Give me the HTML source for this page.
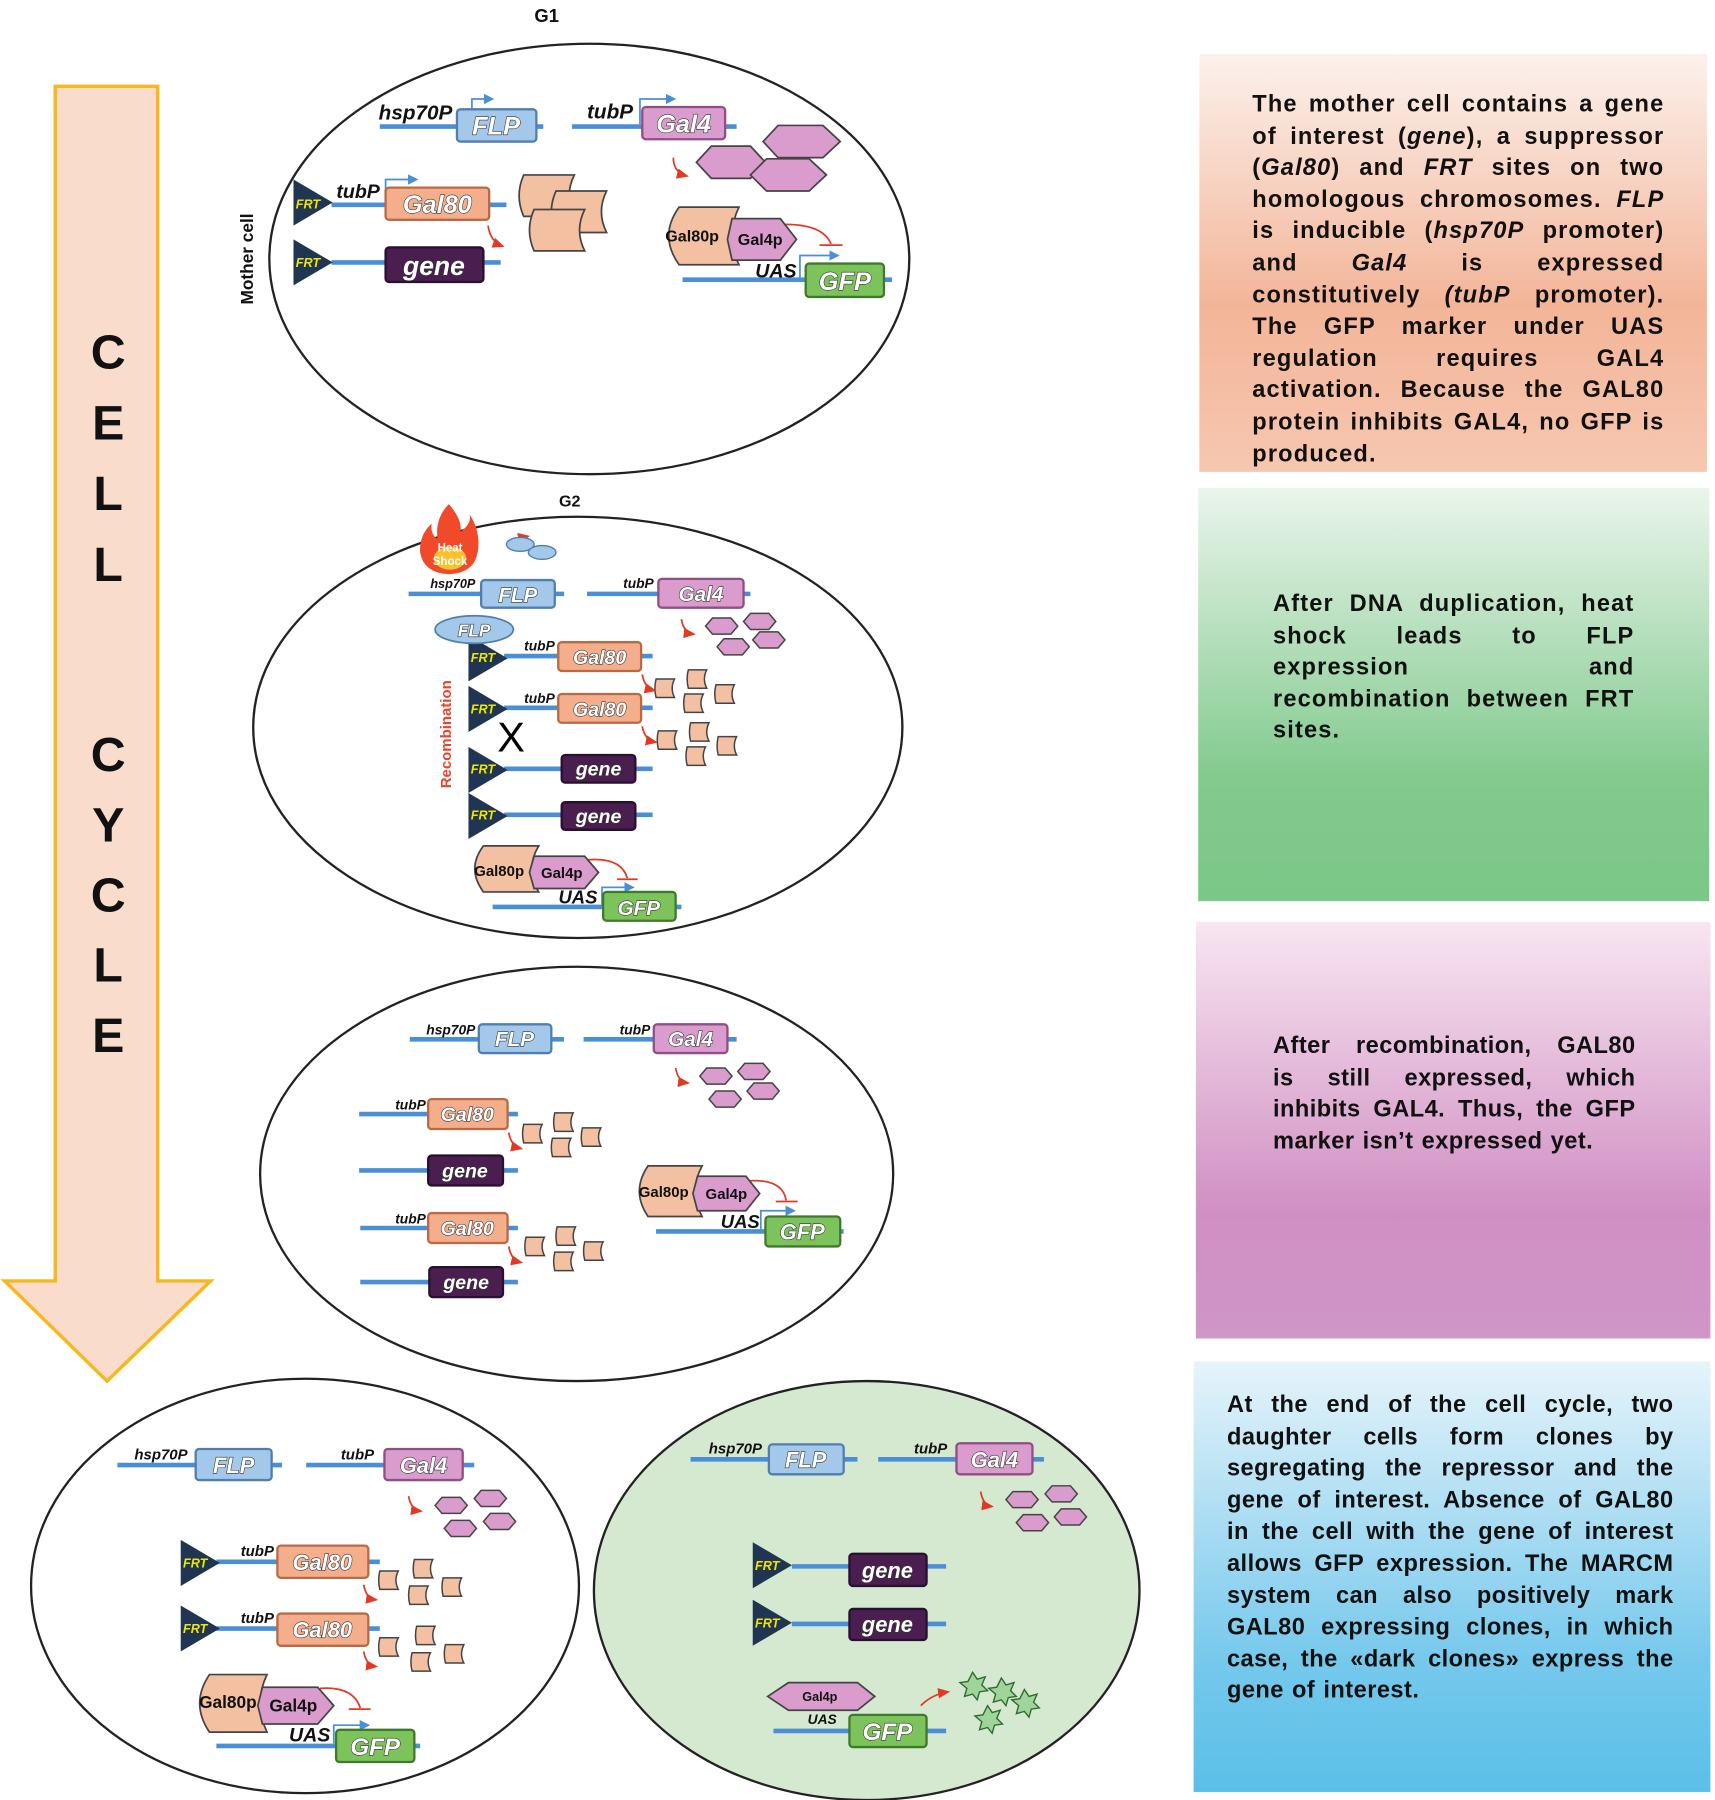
<!DOCTYPE html>
<html><head><meta charset="utf-8"><style>
html,body{margin:0;padding:0;background:#fff;}
#wrap{position:relative;width:1490px;height:1564px;transform:scale(1.151,1.1509);transform-origin:0 0;overflow:hidden;}
svg{position:absolute;left:0;top:0;}
.tb{position:absolute;font-family:"Liberation Sans",sans-serif;font-weight:bold;font-size:20.5px;line-height:27.6px;letter-spacing:0.4px;word-spacing:1px;color:#111;text-align:justify;}
.bt{font-family:"Liberation Sans",sans-serif;font-style:italic;font-weight:bold;fill:#fff;stroke:#333;stroke-width:1;paint-order:stroke;text-anchor:middle;}
.pl{font-family:"Liberation Sans",sans-serif;font-style:italic;font-weight:bold;fill:#111;text-anchor:end;}
.frt{font-family:"Liberation Sans",sans-serif;font-style:italic;font-weight:bold;fill:#f2e600;font-size:11px;}
.pt{font-family:"Liberation Sans",sans-serif;font-weight:bold;fill:#111;}
</style></head><body><div id="wrap">
<svg width="1490" height="1564" viewBox="0 0 1490 1564">
<defs>
<marker id="ab" markerWidth="6" markerHeight="6" refX="5" refY="3" orient="auto"><path d="M0,0 L6,3 L0,6z" fill="#4a8fd6"/></marker>
<marker id="ar" markerWidth="8" markerHeight="8" refX="6" refY="4" orient="auto"><path d="M0,1 L7,4 L0,7z" fill="#e03a25"/></marker>
<g id="hex"><polygon points="-14,0 -8,-7 8,-7 14,0 8,7 -8,7" fill="#d99ccc" stroke="#444" stroke-width="1.3"/></g>
<g id="sq"><path d="M-8,-8 H8 Q4,0 8,8 H-8 Q-10,0 -8,-8z" fill="#f4c0a2" stroke="#444" stroke-width="1.3"/></g>
<g id="sqb"><path d="M-22,-18 H22 Q13,0 22,18 H-22 Q-30,0 -22,-18z" fill="#f4c0a2" stroke="#444" stroke-width="1.5"/></g>
<g id="tri"><polygon points="0,-20 34,0 0,20" fill="#1f3552"/></g>
<linearGradient id="g1" x1="0" y1="0" x2="0" y2="1"><stop offset="0" stop-color="#fcf1ec"/><stop offset="0.6" stop-color="#f3b598"/><stop offset="1" stop-color="#f6c7b0"/></linearGradient>
<linearGradient id="g2" x1="0" y1="0" x2="0" y2="1"><stop offset="0" stop-color="#eaf5ec"/><stop offset="0.7" stop-color="#82ca8e"/><stop offset="1" stop-color="#7ac788"/></linearGradient>
<linearGradient id="g3" x1="0" y1="0" x2="0" y2="1"><stop offset="0" stop-color="#f8e6f1"/><stop offset="0.7" stop-color="#d08fc3"/><stop offset="1" stop-color="#cf96c6"/></linearGradient>
<linearGradient id="g4" x1="0" y1="0" x2="0" y2="1"><stop offset="0" stop-color="#e6f4fa"/><stop offset="0.7" stop-color="#75c8ec"/><stop offset="1" stop-color="#5bbfe8"/></linearGradient>
</defs>

<rect x="1042" y="47" width="441" height="363" fill="url(#g1)"/>
<rect x="1041" y="424" width="444" height="359" fill="url(#g2)"/>
<rect x="1039" y="801" width="447" height="362" fill="url(#g3)"/>
<rect x="1037" y="1183" width="449" height="374" fill="url(#g4)"/>

<polygon points="48,75 137,75 137,1113 183,1113 93,1200 4,1113 48,1113" fill="#f9dccb" stroke="#f6b81e" stroke-width="3"/>
<g font-family="Liberation Sans,sans-serif" font-weight="bold" font-size="42" text-anchor="middle" fill="#111">
<text x="94" y="320">C</text><text x="94" y="382">E</text><text x="94" y="443">L</text><text x="94" y="505">L</text>
<text x="94" y="670">C</text><text x="94" y="731">Y</text><text x="94" y="792">C</text><text x="94" y="853">L</text><text x="94" y="914">E</text>
</g>

<ellipse cx="512" cy="225" rx="278" ry="187" fill="#fff" stroke="#222" stroke-width="2"/>
<ellipse cx="502" cy="632" rx="282" ry="183" fill="#fff" stroke="#222" stroke-width="2"/>
<ellipse cx="501" cy="1020" rx="275" ry="180" fill="#fff" stroke="#222" stroke-width="2"/>
<ellipse cx="265" cy="1378" rx="238" ry="180" fill="#fff" stroke="#222" stroke-width="2"/>
<ellipse cx="753" cy="1382" rx="237" ry="182" fill="#d5e8d0" stroke="#222" stroke-width="2"/>
<text x="475" y="19" class="pt" font-size="16" text-anchor="middle">G1</text>
<text x="495" y="440" class="pt" font-size="14" text-anchor="middle">G2</text>

<g stroke="#4a8fd6" stroke-width="4">
<line x1="330" y1="110" x2="472" y2="110"/><line x1="497" y1="110" x2="640" y2="110"/>
<line x1="288" y1="178" x2="440" y2="178"/><line x1="288" y1="228" x2="435" y2="228"/>
<line x1="593" y1="243" x2="775" y2="243"/>
<line x1="355" y1="516" x2="490" y2="516"/><line x1="510" y1="516" x2="652" y2="516"/>
<line x1="438" y1="570" x2="567" y2="570"/><line x1="438" y1="615" x2="567" y2="615"/>
<line x1="438" y1="668" x2="567" y2="668"/><line x1="438" y1="708" x2="567" y2="708"/>
<line x1="428" y1="788" x2="592" y2="788"/>
<line x1="356" y1="903" x2="490" y2="903"/><line x1="507" y1="903" x2="640" y2="903"/>
<line x1="312" y1="968" x2="450" y2="968"/><line x1="312" y1="1017" x2="450" y2="1017"/>
<line x1="313" y1="1067" x2="450" y2="1067"/><line x1="313" y1="1114" x2="450" y2="1114"/>
<line x1="570" y1="1070" x2="733" y2="1070"/>
<line x1="102" y1="1273" x2="245" y2="1273"/><line x1="266" y1="1273" x2="412" y2="1273"/>
<line x1="188" y1="1357" x2="330" y2="1357"/><line x1="188" y1="1415" x2="330" y2="1415"/>
<line x1="188" y1="1517" x2="365" y2="1517"/>
<line x1="600" y1="1268" x2="745" y2="1268"/><line x1="763" y1="1268" x2="907" y2="1268"/>
<line x1="688" y1="1361" x2="822" y2="1361"/><line x1="688" y1="1411" x2="822" y2="1411"/>
<line x1="672" y1="1504" x2="822" y2="1504"/>
</g>

<g fill="none" stroke="#4a8fd6" stroke-width="1.5" marker-end="url(#ab)">
<path d="M410,108 V86 H428"/><path d="M556,108 V86 H586"/><path d="M335,176 V156 H362"/>
<path d="M695,242 V222 H728"/><path d="M523,787 V771 H550"/><path d="M661,1068 V1052 H690"/>
<path d="M290,1515 V1499 H320"/>
</g>

<use href="#tri" x="255" y="176"/><use href="#tri" x="255" y="228"/>
<use href="#tri" x="407" y="572"/><use href="#tri" x="407" y="616"/><use href="#tri" x="407" y="669"/><use href="#tri" x="407" y="709"/>
<use href="#tri" x="157" y="1358"/><use href="#tri" x="157" y="1415"/>
<use href="#tri" x="654" y="1360"/><use href="#tri" x="654" y="1410"/>
<g class="frt"><text x="257" y="181">FRT</text><text x="257" y="232">FRT</text>
<text x="409" y="575">FRT</text><text x="409" y="620">FRT</text><text x="409" y="672">FRT</text><text x="409" y="712">FRT</text>
<text x="159" y="1362">FRT</text><text x="159" y="1419">FRT</text><text x="656" y="1364">FRT</text><text x="656" y="1414">FRT</text></g>

<g class="pl">
<text x="393" y="104" font-size="18">hsp70P</text><text x="550" y="103" font-size="18">tubP</text><text x="330" y="172" font-size="17">tubP</text>
<text x="413" y="511" font-size="11">hsp70P</text><text x="568" y="511" font-size="12">tubP</text>
<text x="482" y="565" font-size="12">tubP</text><text x="482" y="611" font-size="12">tubP</text>
<text x="413" y="899" font-size="12">hsp70P</text><text x="565" y="899" font-size="12">tubP</text>
<text x="370" y="964" font-size="12">tubP</text><text x="370" y="1063" font-size="12">tubP</text>
<text x="163" y="1268" font-size="13">hsp70P</text><text x="325" y="1268" font-size="13">tubP</text>
<text x="238" y="1352" font-size="13">tubP</text><text x="238" y="1410" font-size="13">tubP</text>
<text x="662" y="1263" font-size="13">hsp70P</text><text x="823" y="1263" font-size="13">tubP</text>
<text x="692" y="241" font-size="17">UAS</text><text x="519" y="785" font-size="16">UAS</text><text x="660" y="1067" font-size="16">UAS</text>
<text x="287" y="1513" font-size="17">UAS</text><text x="727" y="1498" font-size="12">UAS</text>
</g>

<g stroke-width="2">
<rect x="397" y="95" width="69" height="28" rx="3" fill="#a4c8ea" stroke="#4f7fae"/>
<rect x="558" y="93" width="72" height="28" rx="3" fill="#d99ccc" stroke="#8e4f86"/>
<rect x="335" y="163" width="90" height="28" rx="3" fill="#f4ae8c" stroke="#b86a45"/>
<rect x="335" y="215" width="85" height="30" rx="3" fill="#4a1f50" stroke="#2a1030"/>
<rect x="700" y="229" width="68" height="29" rx="3" fill="#7cc35b" stroke="#3f7a2c"/>
<rect x="418" y="504" width="64" height="24" rx="3" fill="#a4c8ea" stroke="#4f7fae"/>
<rect x="572" y="503" width="74" height="25" rx="3" fill="#d99ccc" stroke="#8e4f86"/>
<rect x="485" y="558" width="72" height="25" rx="3" fill="#f4ae8c" stroke="#b86a45"/>
<rect x="485" y="603" width="72" height="25" rx="3" fill="#f4ae8c" stroke="#b86a45"/>
<rect x="488" y="656" width="64" height="24" rx="3" fill="#4a1f50" stroke="#2a1030"/>
<rect x="488" y="697" width="64" height="24" rx="3" fill="#4a1f50" stroke="#2a1030"/>
<rect x="524" y="775" width="63" height="25" rx="3" fill="#7cc35b" stroke="#3f7a2c"/>
<rect x="416" y="890" width="63" height="25" rx="3" fill="#a4c8ea" stroke="#4f7fae"/>
<rect x="568" y="890" width="64" height="25" rx="3" fill="#d99ccc" stroke="#8e4f86"/>
<rect x="372" y="955" width="69" height="26" rx="3" fill="#f4ae8c" stroke="#b86a45"/>
<rect x="372" y="1004" width="65" height="26" rx="3" fill="#4a1f50" stroke="#2a1030"/>
<rect x="372" y="1054" width="69" height="26" rx="3" fill="#f4ae8c" stroke="#b86a45"/>
<rect x="373" y="1101" width="64" height="26" rx="3" fill="#4a1f50" stroke="#2a1030"/>
<rect x="665" y="1057" width="65" height="26" rx="3" fill="#7cc35b" stroke="#3f7a2c"/>
<rect x="170" y="1259" width="66" height="27" rx="3" fill="#a4c8ea" stroke="#4f7fae"/>
<rect x="334" y="1259" width="68" height="27" rx="3" fill="#d99ccc" stroke="#8e4f86"/>
<rect x="241" y="1343" width="79" height="28" rx="3" fill="#f4ae8c" stroke="#b86a45"/>
<rect x="241" y="1402" width="79" height="28" rx="3" fill="#f4ae8c" stroke="#b86a45"/>
<rect x="292" y="1503" width="68" height="28" rx="3" fill="#7cc35b" stroke="#3f7a2c"/>
<rect x="668" y="1255" width="65" height="26" rx="3" fill="#a4c8ea" stroke="#4f7fae"/>
<rect x="831" y="1254" width="66" height="27" rx="3" fill="#d99ccc" stroke="#8e4f86"/>
<rect x="738" y="1350" width="67" height="28" rx="3" fill="#4a1f50" stroke="#2a1030"/>
<rect x="738" y="1398" width="67" height="27" rx="3" fill="#4a1f50" stroke="#2a1030"/>
<rect x="738" y="1490" width="67" height="28" rx="3" fill="#7cc35b" stroke="#3f7a2c"/>
</g>
<g class="bt">
<text x="431" y="117" font-size="22">FLP</text><text x="594" y="115" font-size="22">Gal4</text><text x="380" y="185" font-size="22">Gal80</text>
<text x="377" y="239" font-size="23">gene</text><text x="734" y="252" font-size="22">GFP</text>
<text x="450" y="523" font-size="18">FLP</text><text x="609" y="522" font-size="18">Gal4</text>
<text x="521" y="577" font-size="17">Gal80</text><text x="521" y="622" font-size="17">Gal80</text>
<text x="520" y="674" font-size="17">gene</text><text x="520" y="715" font-size="17">gene</text><text x="555" y="795" font-size="18">GFP</text>
<text x="447" y="909" font-size="18">FLP</text><text x="600" y="909" font-size="18">Gal4</text>
<text x="406" y="974" font-size="17">Gal80</text><text x="404" y="1023" font-size="17">gene</text>
<text x="406" y="1073" font-size="17">Gal80</text><text x="405" y="1120" font-size="17">gene</text><text x="697" y="1077" font-size="19">GFP</text>
<text x="203" y="1280" font-size="19">FLP</text><text x="368" y="1280" font-size="19">Gal4</text>
<text x="280" y="1364" font-size="19">Gal80</text><text x="280" y="1423" font-size="19">Gal80</text><text x="326" y="1525" font-size="21">GFP</text>
<text x="700" y="1275" font-size="19">FLP</text><text x="864" y="1275" font-size="19">Gal4</text>
<text x="771" y="1371" font-size="19">gene</text><text x="771" y="1418" font-size="19">gene</text><text x="771" y="1512" font-size="21">GFP</text>
</g>

<g>
<polygon points="605,141 618,127 652,127 665,141 652,155 618,155" fill="#d99ccc" stroke="#444" stroke-width="1.5"/>
<polygon points="663,123 676,109 715,109 730,123 715,137 676,137" fill="#d99ccc" stroke="#444" stroke-width="1.5"/>
<polygon points="652,152 666,138 703,138 718,152 703,166 666,166" fill="#d99ccc" stroke="#444" stroke-width="1.5"/>
</g>
<use href="#hex" x="627" y="544"/><use href="#hex" x="660" y="540"/><use href="#hex" x="637" y="562"/><use href="#hex" x="668" y="556"/>
<use href="#hex" x="622" y="935"/><use href="#hex" x="655" y="931"/><use href="#hex" x="630" y="955"/><use href="#hex" x="663" y="948"/>
<use href="#hex" x="392" y="1308"/><use href="#hex" x="426" y="1302"/><use href="#hex" x="400" y="1328"/><use href="#hex" x="434" y="1322"/>
<use href="#hex" x="888" y="1303"/><use href="#hex" x="922" y="1298"/><use href="#hex" x="897" y="1323"/><use href="#hex" x="930" y="1318"/>

<use href="#sqb" x="477" y="170"/><use href="#sqb" x="505" y="184"/><use href="#sqb" x="486" y="200"/>
<use href="#sq" x="578" y="598"/><use href="#sq" x="606" y="590"/><use href="#sq" x="630" y="603"/><use href="#sq" x="603" y="611"/>
<use href="#sq" x="580" y="643"/><use href="#sq" x="608" y="636"/><use href="#sq" x="632" y="648"/><use href="#sq" x="605" y="657"/>
<use href="#sq" x="463" y="985"/><use href="#sq" x="490" y="975"/><use href="#sq" x="514" y="988"/><use href="#sq" x="488" y="997"/>
<use href="#sq" x="465" y="1083"/><use href="#sq" x="492" y="1074"/><use href="#sq" x="516" y="1087"/><use href="#sq" x="490" y="1096"/>
<use href="#sq" x="338" y="1373"/><use href="#sq" x="368" y="1363"/><use href="#sq" x="393" y="1379"/><use href="#sq" x="364" y="1386"/>
<use href="#sq" x="338" y="1431"/><use href="#sq" x="370" y="1421"/><use href="#sq" x="395" y="1437"/><use href="#sq" x="366" y="1444"/>

<g fill="none" stroke="#e03a25" stroke-width="1.5" marker-end="url(#ar)">
<path d="M585,137 Q585,150 597,153"/><path d="M424,196 Q426,210 437,214"/>
<path d="M592,538 Q594,550 603,551"/><path d="M558,586 Q560,598 569,600"/><path d="M558,631 Q560,643 570,645"/>
<path d="M446,478 Q447,468 459,466"/><path d="M587,928 Q589,940 598,941"/><path d="M442,984 Q444,996 453,998"/><path d="M442,1083 Q444,1095 453,1097"/>
<path d="M355,1300 Q357,1312 366,1313"/><path d="M316,1377 Q318,1389 327,1390"/><path d="M316,1435 Q318,1447 327,1448"/>
<path d="M852,1296 Q854,1308 862,1309"/><path d="M800,1482 Q810,1472 824,1470"/>
</g>
<g fill="none" stroke="#e03a25" stroke-width="1.5">
<path d="M682,195 Q715,195 722,212"/><line x1="712" y1="213" x2="732" y2="213"/>
<path d="M511,747 Q540,745 545,763"/><line x1="536" y1="764" x2="554" y2="764"/>
<path d="M650,1026 Q680,1024 683,1043"/><line x1="674" y1="1044" x2="693" y2="1044"/>
<path d="M278,1467 Q307,1465 313,1484"/><line x1="303" y1="1485" x2="322" y2="1485"/>
</g>

<g stroke="#444" stroke-width="1.5">
<path d="M590,180 H642 Q630,205 642,230 H590 Q572,205 590,180z" fill="#f4c0a2"/>
<polygon points="636,190 678,190 692,208 678,226 636,226 632,208" fill="#d99ccc"/>
<path d="M420,735 H468 Q456,755 468,775 H420 Q405,755 420,735z" fill="#f4c0a2"/>
<polygon points="464,744 508,744 520,758 508,772 464,772 460,758" fill="#d99ccc"/>
<path d="M563,1013 H610 Q598,1035 610,1057 H563 Q548,1035 563,1013z" fill="#f4c0a2"/>
<polygon points="606,1022 648,1022 660,1037 648,1052 606,1052 602,1037" fill="#d99ccc"/>
<path d="M182,1455 H232 Q220,1480 232,1505 H182 Q165,1480 182,1455z" fill="#f4c0a2"/>
<polygon points="228,1466 276,1466 290,1482 276,1498 228,1498 224,1482" fill="#d99ccc"/>
<polygon points="667,1474 685,1462 745,1462 760,1474 745,1486 685,1486" fill="#d99ccc"/>
</g>
<g class="pt">
<text x="578" y="210" font-size="14">Gal80p</text><text x="641" y="213" font-size="14">Gal4p</text>
<text x="412" y="761" font-size="13">Gal80p</text><text x="470" y="763" font-size="13">Gal4p</text>
<text x="555" y="1040" font-size="13">Gal80p</text><text x="613" y="1042" font-size="13">Gal4p</text>
<text x="173" y="1484" font-size="15">Gal80p</text><text x="234" y="1487" font-size="15">Gal4p</text>
<text x="697" y="1478" font-size="11">Gal4p</text>
</g>

<g fill="#9fd49a" stroke="#2e6b2e" stroke-width="1.2">
<polygon points="845,1453 849,1459 856,1457 853,1464 858,1469 851,1470 849,1477 845,1472 838,1474 840,1467 834,1462 841,1461"/>
<polygon points="870,1458 874,1464 881,1462 878,1469 883,1474 876,1475 874,1482 870,1477 863,1479 865,1472 859,1467 866,1466"/>
<polygon points="890,1468 894,1474 901,1472 898,1479 903,1484 896,1485 894,1492 890,1487 883,1489 885,1482 879,1477 886,1476"/>
<polygon points="858,1482 862,1488 869,1486 866,1493 871,1498 864,1499 862,1506 858,1501 851,1503 853,1496 847,1491 854,1490"/>
</g>

<path d="M390,438 Q402,452 400,462 Q410,455 408,447 Q418,462 415,480 Q412,498 390,499 Q368,498 365,480 Q364,465 375,455 Q374,465 380,468 Q378,450 390,438z" fill="#f04a2a"/>
<ellipse cx="391" cy="485" rx="14" ry="10" fill="#fbc02d"/>
<text x="391" y="479" font-family="Liberation Sans,sans-serif" font-weight="bold" font-size="10" fill="#fff" text-anchor="middle">Heat</text>
<text x="391" y="491" font-family="Liberation Sans,sans-serif" font-weight="bold" font-size="10" fill="#fff" text-anchor="middle">Shock</text>
<ellipse cx="452" cy="473" rx="12" ry="6" fill="#a4c8ea" stroke="#4f7fae" stroke-width="1.2"/>
<ellipse cx="471" cy="480" rx="12" ry="6" fill="#a4c8ea" stroke="#4f7fae" stroke-width="1.2"/>
<ellipse cx="412" cy="547" rx="34" ry="12" fill="#a4c8ea" stroke="#4f7fae" stroke-width="1.5"/>
<text x="412" y="553" class="bt" font-size="15" font-style="normal">FLP</text>
<text x="444" y="653" font-family="Liberation Sans,sans-serif" font-size="36" fill="#000" text-anchor="middle">X</text>
<text transform="translate(392,638) rotate(-90)" font-family="Liberation Sans,sans-serif" font-weight="bold" font-size="13" fill="#e8432c" text-anchor="middle">Recombination</text>
<text transform="translate(220,225) rotate(-90)" font-family="Liberation Sans,sans-serif" font-weight="bold" font-size="15" fill="#111" text-anchor="middle">Mother cell</text>
</svg>

<div class="tb" style="left:1088px;top:77px;width:358px;letter-spacing:1px;">The mother cell contains a gene of interest (<i>gene</i>), a suppressor (<i>Gal80</i>) and <i>FRT</i> sites on two homologous chromosomes. <i>FLP</i> is inducible (<i>hsp70P</i> promoter) and <i>Gal4</i> is expressed constitutively <i>(tubP</i> promoter). The GFP marker under UAS regulation requires GAL4 activation. Because the GAL80 protein inhibits GAL4, no GFP is produced.</div>
<div class="tb" style="left:1106px;top:511px;width:314px;letter-spacing:1px;">After DNA duplication, heat shock leads to FLP expression and recombination between FRT sites.</div>
<div class="tb" style="left:1106px;top:895px;width:315px;text-align-last:justify;white-space:nowrap;">After recombination, GAL80<br>is still expressed, which<br>inhibits GAL4. Thus, the GFP</div>
<div class="tb" style="left:1106px;top:977.8px;width:315px;">marker isn’t expressed yet.</div>
<div class="tb" style="left:1066px;top:1207px;width:388px;">At the end of the cell cycle, two daughter cells form clones by segregating the repressor and the gene of interest. Absence of GAL80 in the cell with the gene of interest allows GFP expression. The MARCM system can also positively mark GAL80 expressing clones, in which case, the «dark clones» express the gene of interest.</div>
</div></body></html>
